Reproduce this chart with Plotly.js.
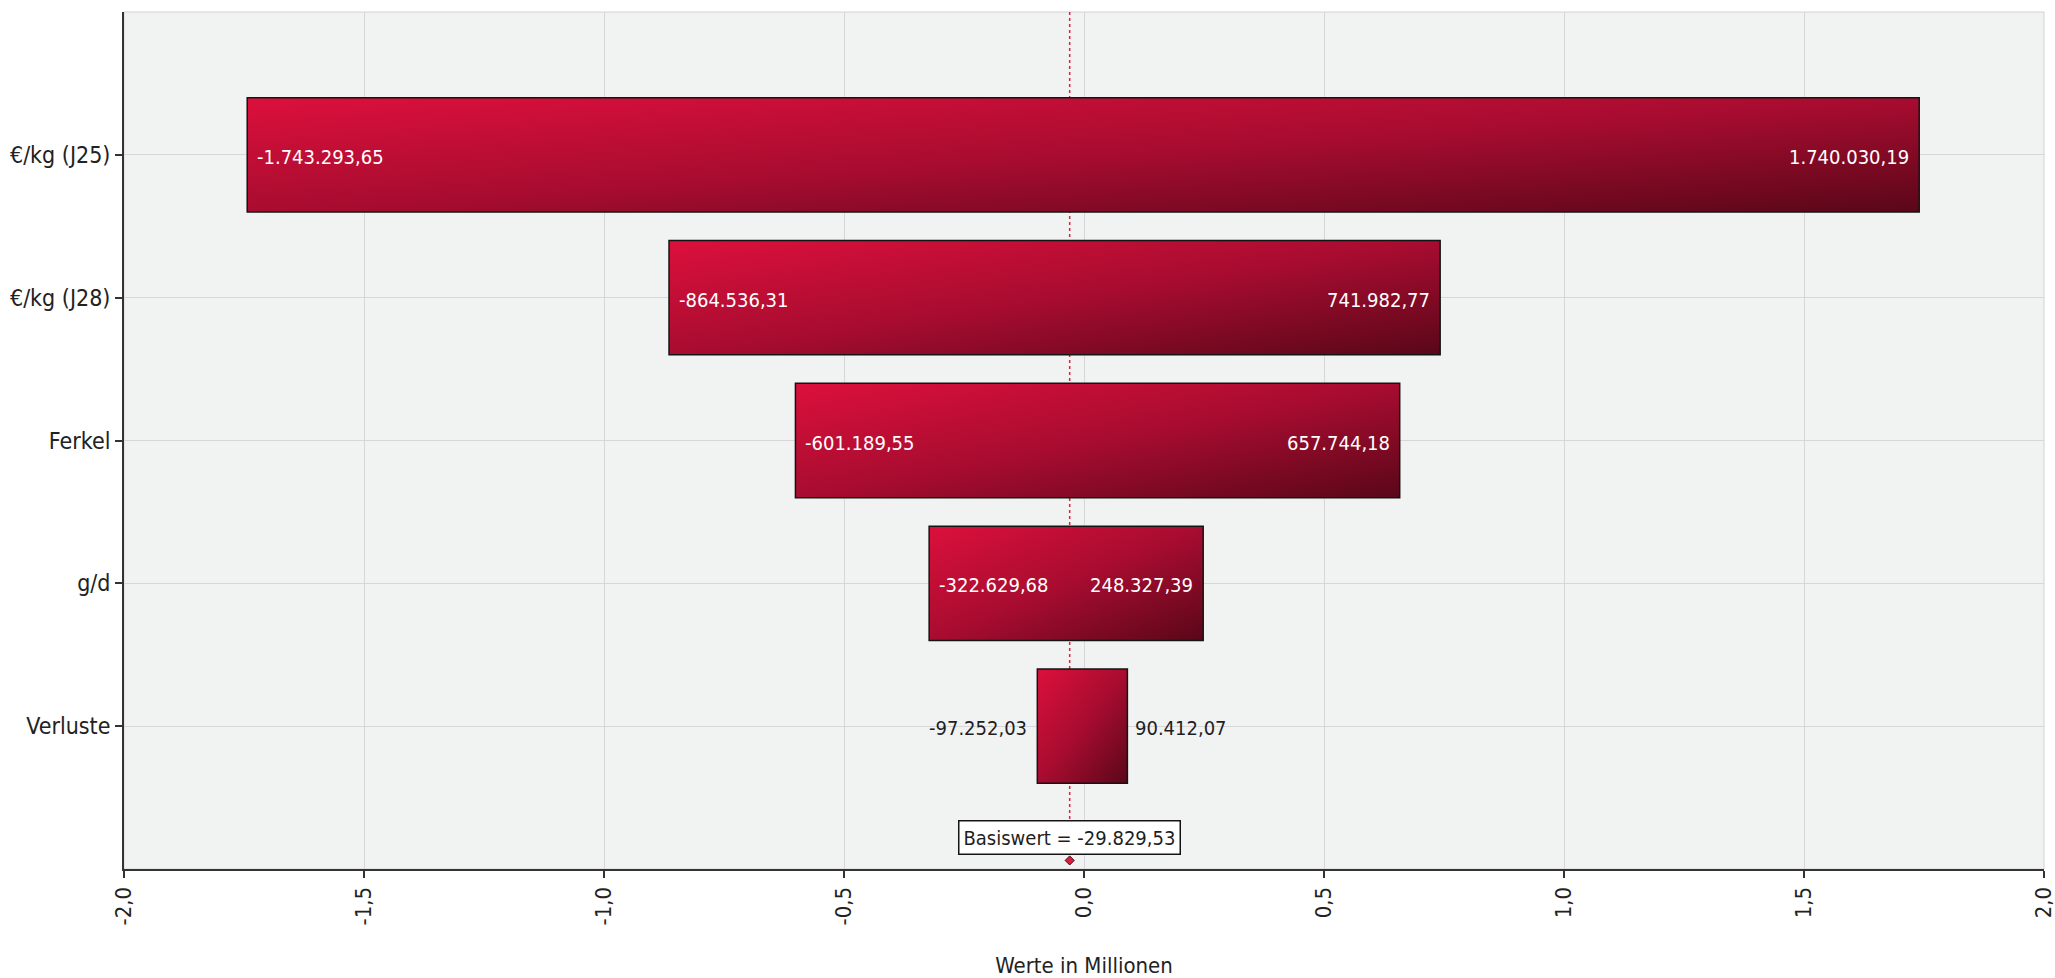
<!DOCTYPE html>
<html>
<head>
<meta charset="utf-8">
<script src="https://cdn.plot.ly/plotly-3.0.1.min.js"></script>
<style>
  html, body { margin: 0; padding: 0; background: #ffffff; }
  #chart { width: 2055px; height: 978px; }
</style>
</head>
<body>
<div id="chart"></div>
<script>
// Tornado chart: low / high outcome per input parameter around a base value
const categories = ['€/kg (J25)', '€/kg (J28)', 'Ferkel', 'g/d', 'Verluste'];
const lowValues  = [-1743293.65, -864536.31, -601189.55, -322629.68, -97252.03];
const highValues = [1740030.19, 741982.77, 657744.18, 248327.39, 90412.07];
const baseValue  = -29829.53;
const xTickValues = [-2, -1.5, -1, -0.5, 0, 0.5, 1, 1.5, 2];
const xTickLabels = ['-2,0', '-1,5', '-1,0', '-0,5', '0,0', '0,5', '1,0', '1,5', '2,0'];
const xAxisTitle = 'Werte in Millionen';
const baseLabel = 'Basiswert';

const FONT = '"Liberation Sans Narrow", "DejaVu Sans Condensed", "Noto Sans", sans-serif';
const MILLION = 1e6;

// German number format: 1.234.567,89
function fmtDE(v) {
  const parts = Math.abs(v).toFixed(2).split('.');
  const intPart = parts[0].replace(/\B(?=(\d{3})+(?!\d))/g, '.');
  return (v < 0 ? '-' : '') + intPart + ',' + parts[1];
}

const idx = categories.map((c, i) => i);
const lowM = lowValues.map(v => v / MILLION);
const highM = highValues.map(v => v / MILLION);
const spanM = highM.map((h, i) => h - lowM[i]);
const baseM = baseValue / MILLION;

const bars = {
  type: 'bar',
  orientation: 'h',
  y: idx,
  base: lowM,
  x: spanM,
  width: 0.8,
  marker: { color: '#a80c30', line: { color: '#141414', width: 1.5 } },
  hoverinfo: 'skip',
  showlegend: false
};

const baseMarker = {
  type: 'scatter',
  mode: 'markers',
  x: [baseM],
  y: [4.94],
  marker: { symbol: 'diamond', size: 7, color: '#d8203e', line: { color: '#3a0a14', width: 1 } },
  cliponaxis: false,
  hoverinfo: 'skip',
  showlegend: false
};

// value labels at both ends of each bar (inside when the bar is wide enough)
const annotations = [];
idx.forEach(i => {
  const inside = spanM[i] > 0.3;
  const col = inside ? '#ffffff' : '#1e1e1e';
  annotations.push({
    x: lowM[i], y: i, xref: 'x', yref: 'y',
    text: fmtDE(lowValues[i]), showarrow: false,
    xanchor: inside ? 'left' : 'right', xshift: inside ? 8 : -8, yshift: -2,
    font: { family: FONT, size: 20, color: col }
  });
  annotations.push({
    x: highM[i], y: i, xref: 'x', yref: 'y',
    text: fmtDE(highValues[i]), showarrow: false,
    xanchor: inside ? 'right' : 'left', xshift: inside ? -8 : 6, yshift: -2,
    font: { family: FONT, size: 20, color: col }
  });
});
annotations.push({
  x: baseM, y: 4.78, xref: 'x', yref: 'y',
  text: baseLabel + ' = ' + fmtDE(baseValue), showarrow: false,
  xanchor: 'center', yanchor: 'middle',
  bgcolor: '#ffffff', bordercolor: '#141414', borderwidth: 1.5, borderpad: 4,
  font: { family: FONT, size: 20, color: '#1e1e1e' }
});

const layout = {
  width: 2055,
  height: 978,
  margin: { l: 124, r: 11, t: 12, b: 109 },
  paper_bgcolor: '#ffffff',
  plot_bgcolor: '#f1f3f3',
  font: { family: FONT, color: '#222222', size: 22 },
  bargap: 0.2,
  xaxis: {
    range: [-2, 2],
    tickvals: xTickValues,
    ticktext: xTickLabels,
    tickangle: -90,
    ticklabeloverflow: 'allow',
    ticks: 'outside', ticklen: 7, tickwidth: 2, tickcolor: '#333333',
    showline: true, linecolor: '#333333', linewidth: 2,
    showgrid: true, gridcolor: '#d9d6da', gridwidth: 1,
    zeroline: false,
    tickfont: { family: FONT, size: 22, color: '#222222' },
    title: { text: xAxisTitle, standoff: 34, font: { family: FONT, size: 22, color: '#222222' } }
  },
  yaxis: {
    range: [5, -1],
    tickvals: idx,
    ticktext: categories,
    ticks: 'outside', ticklen: 7, tickwidth: 2, tickcolor: '#333333',
    showline: true, linecolor: '#333333', linewidth: 2,
    showgrid: true, gridcolor: '#d9d6da', gridwidth: 1,
    zeroline: false,
    tickfont: { family: FONT, size: 23, color: '#222222' }
  },
  shapes: [
    { type: 'rect', xref: 'paper', yref: 'paper', x0: 0, x1: 1, y0: 0, y1: 1,
      line: { color: '#d2d2d2', width: 1 }, layer: 'below' },
    { type: 'line', xref: 'x', yref: 'y', x0: baseM, x1: baseM, y0: -1, y1: 4.66,
      line: { color: '#e0203c', width: 1.5, dash: 'dot' }, layer: 'between' }
  ],
  annotations: annotations
};

Plotly.newPlot('chart', [bars, baseMarker], layout, { displayModeBar: false, staticPlot: true })
  .then(gd => {
    // diagonal light-to-dark fill for the bars
    const svgNS = 'http://www.w3.org/2000/svg';
    const defs = gd.querySelector('.main-svg defs');
    const grad = document.createElementNS(svgNS, 'linearGradient');
    grad.setAttribute('id', 'tornadoBarFill');
    grad.setAttribute('x1', '0'); grad.setAttribute('y1', '0');
    grad.setAttribute('x2', '1'); grad.setAttribute('y2', '1');
    [['0', '#dc103c'], ['0.5', '#a80c30'], ['1', '#5a0719']].forEach(([off, col]) => {
      const st = document.createElementNS(svgNS, 'stop');
      st.setAttribute('offset', off);
      st.setAttribute('stop-color', col);
      grad.appendChild(st);
    });
    defs.appendChild(grad);
    gd.querySelectorAll('.barlayer .point path').forEach(p => {
      p.style.fill = 'url(#tornadoBarFill)';
    });
  });
</script>
</body>
</html>
